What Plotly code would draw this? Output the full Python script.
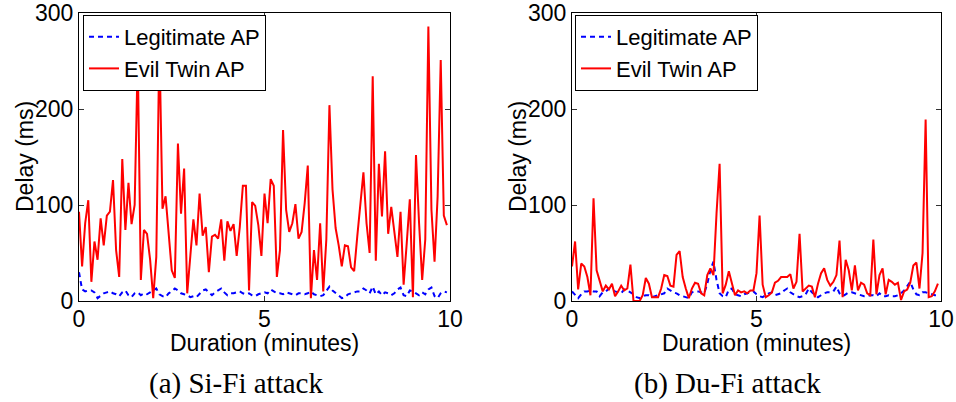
import plotly.graph_objects as go

# Sample times: one sample every 5 seconds over 10 minutes
minutes = [i * 5 / 60 for i in range(120)]

# (a) Si-Fi attack — delay in ms
sifi_legit = [30, 12, 10, 11, 11, 9, 3, 6, 8, 9, 10, 8, 7, 5, 9, 11, 6, 4, 8, 9,
              6, 8, 7, 9, 11, 13, 7, 5, 4, 8, 10, 13, 11, 8, 7, 6, 4, 5, 4, 7,
              11, 12, 9, 6, 9, 11, 13, 9, 6, 8, 8, 9, 10, 8, 7, 8, 6, 5, 7, 8,
              9, 8, 12, 10, 8, 8, 7, 9, 8, 7, 6, 8, 8, 7, 8, 10, 7, 6, 5, 6,
              10, 15, 11, 8, 5, 3, 4, 7, 8, 9, 10, 10, 13, 11, 8, 15, 7, 10, 6, 9,
              8, 6, 8, 12, 14, 6, 5, 11, 10, 8, 6, 9, 7, 12, 14, 5, 3, 8, 10, 9]
sifi_evil = [93, 36, 81, 105, 20, 62, 43, 86, 58, 89, 93, 126, 53, 25, 148, 74, 123, 80, 100, 255,
             22, 74, 70, 43, 3, 46, 270, 96, 109, 70, 32, 24, 164, 91, 138, 8, 50, 85, 58, 112,
             68, 77, 30, 67, 69, 65, 85, 42, 83, 73, 80, 47, 77, 120, 120, 11, 103, 99, 79, 47,
             112, 81, 127, 120, 25, 53, 178, 95, 72, 81, 101, 65, 72, 102, 141, 3, 53, 22, 81, 10,
             64, 204, 116, 76, 58, 36, 58, 57, 35, 31, 67, 105, 134, 81, 50, 234, 42, 143, 88, 156,
             70, 98, 72, 46, 93, 17, 60, 106, 4, 152, 81, 22, 64, 286, 95, 41, 109, 251, 89, 79]

# (b) Du-Fi attack — delay in ms
dufi_legit = [10, 6, 3, 7, 10, 10, 11, 10, 10, 5, 9, 10, 13, 12, 10, 9, 8, 12, 11, 9,
              7, 4, 3, 5, 6, 6, 4, 5, 6, 7, 8, 13, 11, 9, 8, 6, 5, 4, 3, 9,
              10, 10, 9, 8, 18, 32, 41, 22, 8, 5, 4, 12, 13, 7, 6, 5, 7, 8, 9, 10,
              7, 5, 4, 6, 8, 9, 6, 7, 8, 11, 13, 9, 7, 5, 4, 5, 7, 13, 9, 6,
              4, 6, 8, 9, 9, 10, 15, 8, 5, 7, 9, 9, 8, 7, 6, 5, 5, 6, 6, 5,
              8, 5, 5, 6, 5, 5, 6, 8, 11, 15, 20, 12, 7, 6, 9, 9, 8, 7, 6, 6]
dufi_evil = [36, 62, 12, 39, 36, 25, 6, 107, 32, 22, 10, 16, 12, 18, 5, 10, 16, 11, 13, 38,
             0, 0, 0, 6, 24, 18, 4, 4, 4, 13, 27, 26, 16, 15, 48, 52, 25, 13, 3, 13,
             19, 18, 8, 6, 27, 34, 27, 91, 143, 8, 17, 31, 17, 6, 11, 9, 10, 8, 11, 11,
             29, 89, 17, 4, 6, 9, 19, 21, 25, 25, 25, 28, 13, 20, 70, 10, 13, 16, 15, 4,
             18, 29, 34, 22, 16, 20, 27, 63, 4, 43, 32, 11, 37, 11, 19, 17, 8, 6, 64, 7,
             27, 34, 7, 22, 20, 17, 19, 1, 10, 12, 19, 37, 40, 13, 50, 189, 4, 5, 10, 18]

x_ticks = [0, 5, 10]
y_ticks = [0, 100, 200, 300]

W, H = 956, 402
FONT = "Liberation Sans, Arial, sans-serif"
BLUE = "#0000FF"
RED = "#FF0000"

fig = go.Figure()

panels = [
    ("x", "y", "legend", sifi_legit, sifi_evil),
    ("x2", "y2", "legend2", dufi_legit, dufi_evil),
]
for xa, ya, lg, legit, evil in panels:
    fig.add_trace(go.Scatter(x=minutes, y=legit, mode="lines", name="Legitimate AP",
                             line=dict(color=BLUE, width=2, dash="5px,4px"),
                             xaxis=xa, yaxis=ya, legend=lg))
    fig.add_trace(go.Scatter(x=minutes, y=evil, mode="lines", name="Evil Twin AP",
                             line=dict(color=RED, width=2),
                             xaxis=xa, yaxis=ya, legend=lg))

# plot-area pixel boxes: (left, right) in x, shared top/bottom
boxes = [(79, 450), (572, 941)]
top, bottom = 13, 301
ydom = [1 - bottom / H, 1 - top / H]

axis_style = dict(showline=True, linecolor="black", linewidth=1.3, mirror="ticks",
                  ticks="inside", ticklen=5, tickwidth=1, tickcolor="#333333",
                  showgrid=False, zeroline=False, automargin=False,
                  tickfont=dict(family=FONT, size=23, color="black"))

for i, (l, r) in enumerate(boxes):
    sfx = "" if i == 0 else str(i + 1)
    fig.layout["xaxis" + sfx] = dict(domain=[l / W, r / W], range=[0, 10],
                                     tickvals=x_ticks, anchor="y" + sfx,
                                     ticklabelstandoff=-3, **axis_style)
    fig.layout["yaxis" + sfx] = dict(domain=ydom, range=[0, 300],
                                     tickvals=y_ticks, anchor="x" + sfx, **axis_style)

legend_style = dict(bgcolor="white", bordercolor="black", borderwidth=1,
                    font=dict(family=FONT, size=22, color="black"),
                    xanchor="left", yanchor="top", tracegroupgap=0,
                    itemwidth=30)
fig.update_layout(
    legend=dict(x=83 / W, y=1 - 15 / H, **legend_style),
    legend2=dict(x=575 / W, y=1 - 15 / H, **legend_style),
)

annotations = []
for (l, r), cap in zip(boxes, ["(a) Si-Fi attack", "(b) Du-Fi attack"]):
    cx = (l + r) / 2
    annotations.append(dict(text="Duration (minutes)", x=cx / W, y=1 - 343 / H,
                            xref="paper", yref="paper", showarrow=False,
                            xanchor="center", yanchor="middle",
                            font=dict(family=FONT, size=23, color="black")))
    annotations.append(dict(text="Delay (ms)", x=(l - 54) / W, y=1 - 157 / H,
                            xref="paper", yref="paper", showarrow=False, textangle=-90,
                            xanchor="center", yanchor="middle",
                            font=dict(family=FONT, size=23, color="black")))
    annotations.append(dict(text=cap, x=(cx - 29) / W, y=1 - 383 / H,
                            xref="paper", yref="paper", showarrow=False,
                            xanchor="center", yanchor="middle",
                            font=dict(family="Liberation Serif, serif", size=29, color="black")))

fig.update_layout(
    width=W, height=H,
    margin=dict(l=0, r=0, t=0, b=0),
    paper_bgcolor="white", plot_bgcolor="white",
    showlegend=True,
    annotations=annotations,
)

fig.write_html("out.html")
